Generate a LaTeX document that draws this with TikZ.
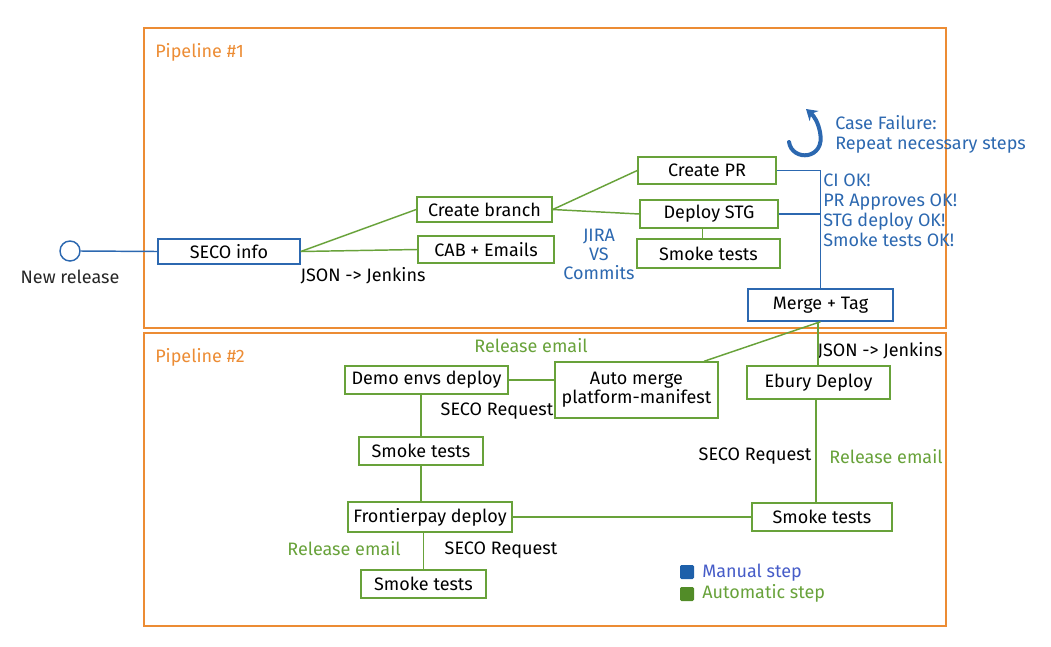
\documentclass[tikz,border=0pt]{standalone}
\usepackage{fontspec}
\setmainfont{Fira Sans}
\usetikzlibrary{arrows.meta}
\definecolor{orng}{RGB}{236,140,52}
\definecolor{bl}{RGB}{44,104,176}
\definecolor{gr}{RGB}{104,162,58}
\definecolor{manualtxt}{RGB}{70,92,200}
\definecolor{legblue}{RGB}{30,96,170}
\definecolor{leggreen}{RGB}{82,140,40}
\tikzset{
  txt/.style={font=\fontsize{13.5}{14.5}\selectfont, inner sep=0pt},
  box/.style={draw, line width=1.1pt, txt, align=center},
  manualbox/.style={box, draw=bl},
  autobox/.style={box, draw=gr},
  frame/.style={draw=orng, line width=1.1pt},
  bline/.style={draw=bl, line width=1.1pt},
  gline/.style={draw=gr, line width=1.1pt},
}
\begin{document}
\begin{tikzpicture}[x=0.75pt,y=-0.75pt]
\useasboundingbox (0,0) rectangle (1051,647);
% frames
\draw[frame] (144,28) rectangle (946,328);
\draw[frame] (144,333) rectangle (946,626);
\node[txt, text=orng, anchor=west] (p1) at (155,52) {Pipeline \#1};
\node[txt, text=orng, anchor=west] (p2) at (155,357) {Pipeline \#2};

% pipeline 1 nodes
\node[circle, draw=bl, line width=1.1pt, minimum size=15pt, inner sep=0pt] (start) at (70,251) {};
\node[txt, text=black!85] (startlbl) at (70,277) {New release};
\node[manualbox, minimum width=106.5pt, minimum height=18.75pt] (seco) at (229,251.5) {SECO info};
\node[txt] (json1) at (363,276) {JSON -> Jenkins};
\node[autobox, minimum width=101.25pt, minimum height=18.75pt] (branch) at (484.5,209.5) {Create branch};
\node[autobox, minimum width=102pt, minimum height=20.25pt] (cab) at (486,249.5) {CAB + Emails};
\node[autobox, minimum width=103.5pt, minimum height=20.25pt] (pr) at (707,170.5) {Create PR};
\node[autobox, minimum width=103.5pt, minimum height=21pt] (stg) at (709,214) {Deploy STG};
\node[autobox, minimum width=107.25pt, minimum height=21.75pt] (smoke1) at (708.5,253.5) {Smoke tests};
\node[txt, text=bl, align=center, font=\fontsize{13.5}{14.25}\selectfont] (jira) at (599,254) {JIRA\\VS\\Commits};
\node[manualbox, minimum width=108.75pt, minimum height=24pt] (merge) at (820.5,305) {Merge + Tag};
\node[txt, text=bl, align=left, anchor=north west, font=\fontsize{13.5}{15}\selectfont] (oks) at (823,174) {CI OK!\\PR Approves OK!\\STG deploy OK!\\Smoke tests OK!};
\node[txt, text=bl, align=left, anchor=west, font=\fontsize{13.5}{15}\selectfont] (fail) at (835,134) {Case Failure:\\Repeat necessary steps};
\draw[bl, line width=3pt, line cap=round, -{Stealth[length=8pt,width=10pt]}]
  (789,142) .. controls (792,162) and (826,160) .. (820,132)
  .. controls (818,122) and (814,116) .. (806,109);

% pipeline 1 connectors
\draw[bline] (start.east) -- (seco.west);
\draw[gline] (seco.east) -- (branch.west);
\draw[gline] (seco.east) -- (cab.west);
\draw[gline] (branch.east) -- (pr.west);
\draw[gline] (branch.east) -- (stg.west);
\draw[gline] ([xshift=-5pt]stg.south) -- ([xshift=-5pt]stg.south |- smoke1.north);
\draw[bline] (pr.east) -- (pr.east -| merge.north) -- (merge.north);
\draw[bline] (stg.east) -- (stg.east -| merge.north);

% pipeline 2 nodes
\node[autobox, minimum width=122.25pt, minimum height=21pt] (demo) at (426.5,380) {Demo envs deploy};
\node[autobox, minimum width=122.25pt, minimum height=42pt] (auto) at (636.5,390) {Auto merge\\platform-manifest};
\node[txt, text=gr] (rel1) at (531,346) {Release email};
\node[txt] (seco1) at (497,411) {SECO Request};
\node[autobox, minimum width=107.25pt, minimum height=24.75pt] (ebury) at (818.5,382.5) {Ebury Deploy};
\node[txt] (json2) at (880,351) {JSON -> Jenkins};
\node[autobox, minimum width=93pt, minimum height=21pt] (smokeA) at (421,451) {Smoke tests};
\node[autobox, minimum width=123pt, minimum height=22.5pt] (front) at (430,517) {Frontierpay deploy};
\node[autobox, minimum width=105pt, minimum height=21pt] (smokeC) at (822,517) {Smoke tests};
\node[autobox, minimum width=93.75pt, minimum height=21pt] (smokeB) at (423.5,584) {Smoke tests};
\node[txt] (seco2) at (755,456) {SECO Request};
\node[txt, text=gr] (rel2) at (886,457) {Release email};
\node[txt, text=gr] (rel3) at (344,549) {Release email};
\node[txt] (seco3) at (501,550) {SECO Request};

% legend
\node[fill=legblue, minimum size=10.5pt, inner sep=0pt, rounded corners=1pt] (legb) at (687,572) {};
\node[fill=leggreen, minimum size=10.5pt, inner sep=0pt, rounded corners=1pt] (legg) at (687,594) {};
\node[txt, text=manualtxt, anchor=west] (legbt) at (702,573) {Manual step};
\node[txt, text=gr, anchor=west] (leggt) at (702,593) {Automatic step};

% pipeline 2 connectors
\draw[gline] (merge.south) -- ([xshift=-11pt]auto.north east);
\draw[gline] ([xshift=-2pt]merge.south) -- ([xshift=-2pt]merge.south |- ebury.north);
\draw[gline] (demo.east) -- (demo.east -| auto.west);
\draw[gline] (smokeA.north |- demo.south) -- (smokeA.north);
\draw[gline] (smokeA.south) -- (smokeA.south |- front.north);
\draw[gline] (front.east) -- (smokeC.west);
\draw[gline] ([xshift=-2pt]ebury.south) -- ([xshift=-2pt]ebury.south |- smokeC.north);
\draw[gline] (smokeB.north |- front.south) -- (smokeB.north);
\end{tikzpicture}
\end{document}
